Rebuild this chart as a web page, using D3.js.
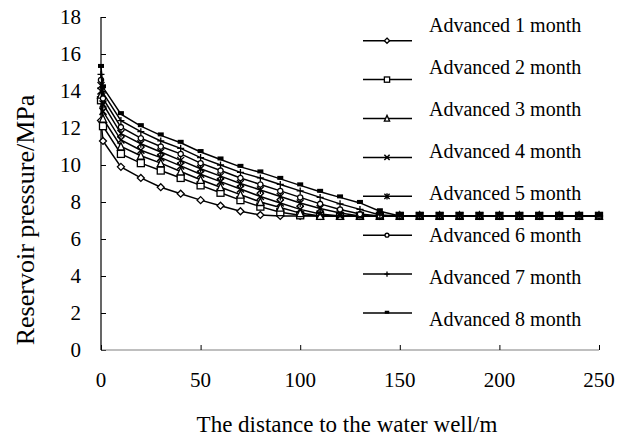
<!DOCTYPE html>
<html>
<head>
<meta charset="utf-8">
<script src="https://cdn.jsdelivr.net/npm/d3@7"></script>
<style>
  body { margin: 0; background: #fff; }
  text { font-family: "Liberation Serif", "Times New Roman", serif; fill: #000; }
</style>
</head>
<body>
<div id="chart"></div>
<script>
// distance from the water well (m)
const distance = [0, 1, 10, 20, 30, 40, 50, 60, 70, 80, 90, 100, 110, 120, 130, 140,
                  150, 160, 170, 180, 190, 200, 210, 220, 230, 240, 250];

// reservoir pressure (MPa) for each advance time
const month1 = [12.4, 11.3, 9.9, 9.3, 8.8, 8.45, 8.1, 7.8, 7.5, 7.3, 7.25, 7.25, 7.25, 7.25, 7.25, 7.25,
                7.25, 7.25, 7.25, 7.25, 7.25, 7.25, 7.25, 7.25, 7.25, 7.25, 7.25];
const month2 = [13.5, 12.1, 10.6, 10.1, 9.7, 9.3, 8.9, 8.5, 8.1, 7.75, 7.45, 7.28, 7.25, 7.25, 7.25, 7.25,
                7.25, 7.25, 7.25, 7.25, 7.25, 7.25, 7.25, 7.25, 7.25, 7.25, 7.25];
const month3 = [13.8, 12.5, 11.0, 10.5, 10.1, 9.65, 9.2, 8.8, 8.4, 8.0, 7.7, 7.4, 7.25, 7.25, 7.25, 7.25,
                7.25, 7.25, 7.25, 7.25, 7.25, 7.25, 7.25, 7.25, 7.25, 7.25, 7.25];
const month4 = [14.0, 12.9, 11.35, 10.8, 10.4, 9.95, 9.5, 9.1, 8.7, 8.3, 7.95, 7.6, 7.35, 7.25, 7.25, 7.25,
                7.25, 7.25, 7.25, 7.25, 7.25, 7.25, 7.25, 7.25, 7.25, 7.25, 7.25];
const month5 = [14.3, 13.3, 11.7, 11.15, 10.7, 10.25, 9.8, 9.4, 9.0, 8.65, 8.3, 7.95, 7.65, 7.4, 7.25, 7.25,
                7.25, 7.25, 7.25, 7.25, 7.25, 7.25, 7.25, 7.25, 7.25, 7.25, 7.25];
const month6 = [14.6, 13.6, 12.05, 11.45, 11.0, 10.6, 10.1, 9.7, 9.3, 8.95, 8.6, 8.25, 7.9, 7.6, 7.35, 7.25,
                7.25, 7.25, 7.25, 7.25, 7.25, 7.25, 7.25, 7.25, 7.25, 7.25, 7.25];
const month7 = [14.9, 13.9, 12.4, 11.8, 11.3, 10.9, 10.4, 10.0, 9.6, 9.3, 8.95, 8.6, 8.25, 7.9, 7.6, 7.3,
                7.25, 7.25, 7.25, 7.25, 7.25, 7.25, 7.25, 7.25, 7.25, 7.25, 7.25];
const month8 = [15.3, 14.2, 12.75, 12.1, 11.6, 11.2, 10.7, 10.3, 9.9, 9.6, 9.25, 8.9, 8.55, 8.25, 7.95, 7.5,
                7.25, 7.25, 7.25, 7.25, 7.25, 7.25, 7.25, 7.25, 7.25, 7.25, 7.25];

const seriesNames = ["Advanced 1 month", "Advanced 2 month", "Advanced 3 month", "Advanced 4 month",
                     "Advanced 5 month", "Advanced 6 month", "Advanced 7 month", "Advanced 8 month"];
const markerTypes = ["diamond", "square", "triangle", "cross", "asterisk", "circle", "plus", "bar"];
const xTicks = [0, 50, 100, 150, 200, 250];
const yTicks = [0, 2, 4, 6, 8, 10, 12, 14, 16, 18];

const allSeries = [month1, month2, month3, month4, month5, month6, month7, month8];

const width = 629, height = 438;
const svg = d3.select("#chart").append("svg")
  .attr("width", width).attr("height", height);

const x = d3.scaleLinear().domain([0, 250]).range([101, 599]);
const y = d3.scaleLinear().domain([0, 18]).range([350, 17]);

// axes, ticks pointing into the plot like excel does
const yAxis = svg.append("g").attr("transform", `translate(${x(0)},0)`)
  .call(d3.axisRight(y).tickValues(yTicks).tickSize(5).tickFormat(""));
yAxis.select(".domain").attr("stroke", "#000").attr("stroke-width", 1.2).attr("d", `M0,${y(18)}V${y(0)}`);
yAxis.selectAll(".tick line").attr("stroke", "#000");

const xAxis = svg.append("g").attr("transform", `translate(0,${y(0)})`)
  .call(d3.axisTop(x).tickValues(xTicks).tickSize(5).tickFormat(""));
xAxis.select(".domain").attr("stroke", "#808080").attr("stroke-width", 1.2).attr("d", `M${x(0)},0H${x(250)}`);
xAxis.selectAll(".tick line").attr("stroke", "#000");

svg.append("g").selectAll("text").data(yTicks).join("text")
  .attr("x", 81).attr("y", d => y(d)).attr("dy", "0.35em")
  .attr("text-anchor", "end").attr("font-size", 21).text(d => d);

svg.append("g").selectAll("text").data(xTicks).join("text")
  .attr("x", d => x(d)).attr("y", 380).attr("dy", "0.35em")
  .attr("text-anchor", "middle").attr("font-size", 21).text(d => d);

svg.append("text").attr("x", 347).attr("y", 424).attr("dy", "0.35em")
  .attr("text-anchor", "middle").attr("font-size", 23).text("The distance to the water well/m");

svg.append("text").attr("transform", "translate(25,220) rotate(-90)").attr("dy", "0.35em")
  .attr("text-anchor", "middle").attr("font-size", 26).text("Reservoir pressure/MPa");

// marker drawing, k scales the symbol
function drawMarker(g, type, k) {
  const s = 3.5 * k;
  if (type === "diamond") {
    g.append("path").attr("d", `M0,${-s}L${s},0L0,${s}L${-s},0Z`)
      .attr("fill", "#fff").attr("stroke", "#000").attr("stroke-width", 1.3);
  } else if (type === "square") {
    g.append("rect").attr("x", -s).attr("y", -s).attr("width", 2 * s).attr("height", 2 * s)
      .attr("fill", "#fff").attr("stroke", "#000").attr("stroke-width", 1.3);
  } else if (type === "triangle") {
    g.append("path").attr("d", `M0,${-s - 0.5}L${s},${s}L${-s},${s}Z`)
      .attr("fill", "#fff").attr("stroke", "#000").attr("stroke-width", 1.3);
  } else if (type === "cross") {
    g.append("path").attr("d", `M${-s},${-s}L${s},${s}M${-s},${s}L${s},${-s}`)
      .attr("stroke", "#000").attr("stroke-width", 1.5);
  } else if (type === "asterisk") {
    g.append("path").attr("d", `M${-s},${-s}L${s},${s}M${-s},${s}L${s},${-s}M0,${-s - 0.5}V${s + 0.5}`)
      .attr("stroke", "#000").attr("stroke-width", 1.3);
  } else if (type === "circle") {
    g.append("circle").attr("r", 2.6 * k)
      .attr("fill", "#fff").attr("stroke", "#000").attr("stroke-width", 1.3);
  } else if (type === "plus") {
    g.append("path").attr("d", `M${-s},0H${s}M0,${-s}V${s}`)
      .attr("stroke", "#000").attr("stroke-width", 1.3);
  } else if (type === "bar") {
    g.append("rect").attr("x", -3 * k).attr("y", -3 * k).attr("width", 6 * k).attr("height", 4 * k)
      .attr("fill", "#000");
  }
}

const line = d3.line().x(d => x(d[0])).y(d => y(d[1]));

allSeries.forEach((vals, i) => {
  const pts = distance.map((d, j) => [d, vals[j]]);
  svg.append("path").datum(pts).attr("d", line)
    .attr("fill", "none").attr("stroke", "#000").attr("stroke-width", 1.5);
  svg.append("g").selectAll("g").data(pts).join("g")
    .attr("transform", d => `translate(${x(d[0])},${y(d[1])})`)
    .each(function() { drawMarker(d3.select(this), markerTypes[i], 1); });
});

// legend: lines and labels are spaced a bit differently in the original
const legend = svg.append("g");
seriesNames.forEach((name, i) => {
  const ly = 40.7 + i * 38.9;
  legend.append("line").attr("x1", 363).attr("x2", 412).attr("y1", ly).attr("y2", ly)
    .attr("stroke", "#000").attr("stroke-width", 1.5);
  const g = legend.append("g").attr("transform", `translate(387,${ly})`);
  drawMarker(g, markerTypes[i], 0.75);
  legend.append("text").attr("x", 429).attr("y", 25 + i * 42).attr("dy", "0.35em")
    .attr("font-size", 20).text(name);
});
</script>
</body>
</html>
